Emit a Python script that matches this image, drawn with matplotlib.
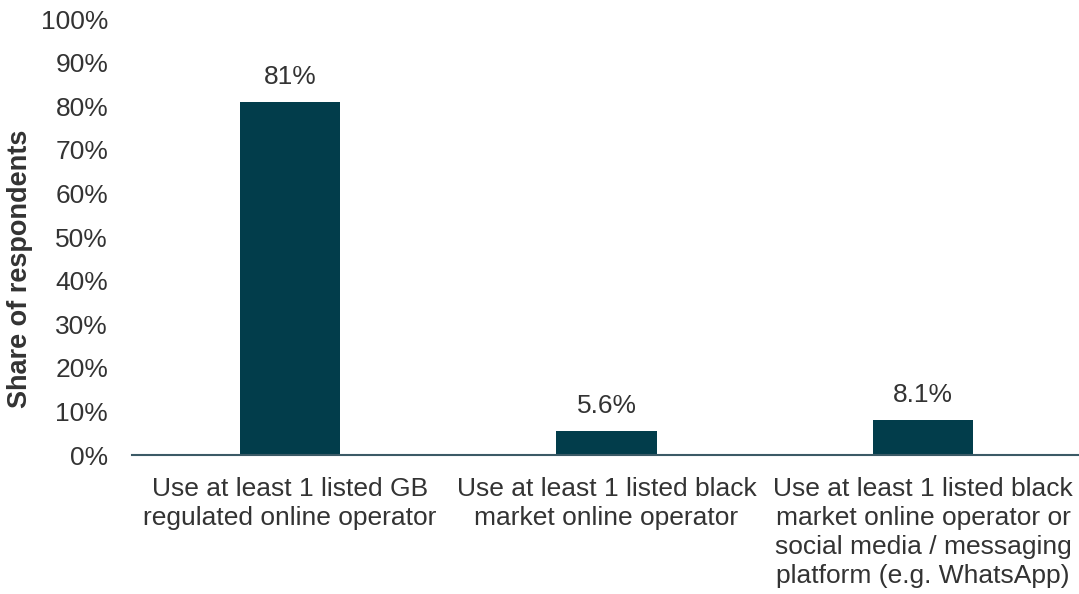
import matplotlib
matplotlib.use("Agg")
import matplotlib.pyplot as plt
from matplotlib.ticker import FuncFormatter

categories = [
    "Use at least 1 listed GB\nregulated online operator",
    "Use at least 1 listed black\nmarket online operator",
    "Use at least 1 listed black\nmarket online operator or\nsocial media / messaging\nplatform (e.g. WhatsApp)",
]
values = [81, 5.6, 8.1]
value_labels = ["81%", "5.6%", "8.1%"]
y_ticks = list(range(0, 101, 10))

bar_color = "#023d4b"
text_color = "#333333"
fs = 19

plt.rcParams["font.family"] = ["Liberation Sans", "DejaVu Sans"]

fig = plt.figure(figsize=(10.79, 5.94), dpi=100)
ax = fig.add_axes([0.1221, 0.234, 0.880, 0.734])

x = range(len(categories))
ax.bar(x, values, width=0.316, color=bar_color, zorder=2)

for xi, v, lab in zip(x, values, value_labels):
    ax.annotate(lab, (xi, v), xytext=(0, 9), textcoords="offset points",
                ha="center", va="bottom", fontsize=fs, color=text_color)

ax.set_xlim(-0.5, len(categories) - 0.5)
ax.set_ylim(0, 100)
ax.set_yticks(y_ticks)
ax.yaxis.set_major_formatter(FuncFormatter(lambda v, p: f"{int(v)}%"))
ax.set_xticks(list(x))
ax.set_xticklabels(categories, fontsize=fs, color=text_color, linespacing=1.26)
ax.tick_params(axis="y", length=0, pad=17, labelsize=fs, labelcolor=text_color)
ax.tick_params(axis="x", length=0, pad=16)

for side in ("top", "right", "left"):
    ax.spines[side].set_visible(False)
ax.spines["bottom"].set_color("#3b5a66")
ax.spines["bottom"].set_linewidth(1.5)

ax.set_ylabel("Share of respondents", fontsize=19.5, fontweight="bold",
              color=text_color)
ax.yaxis.set_label_coords(-0.104, 0.427)

fig.savefig("out.png", dpi=100)
